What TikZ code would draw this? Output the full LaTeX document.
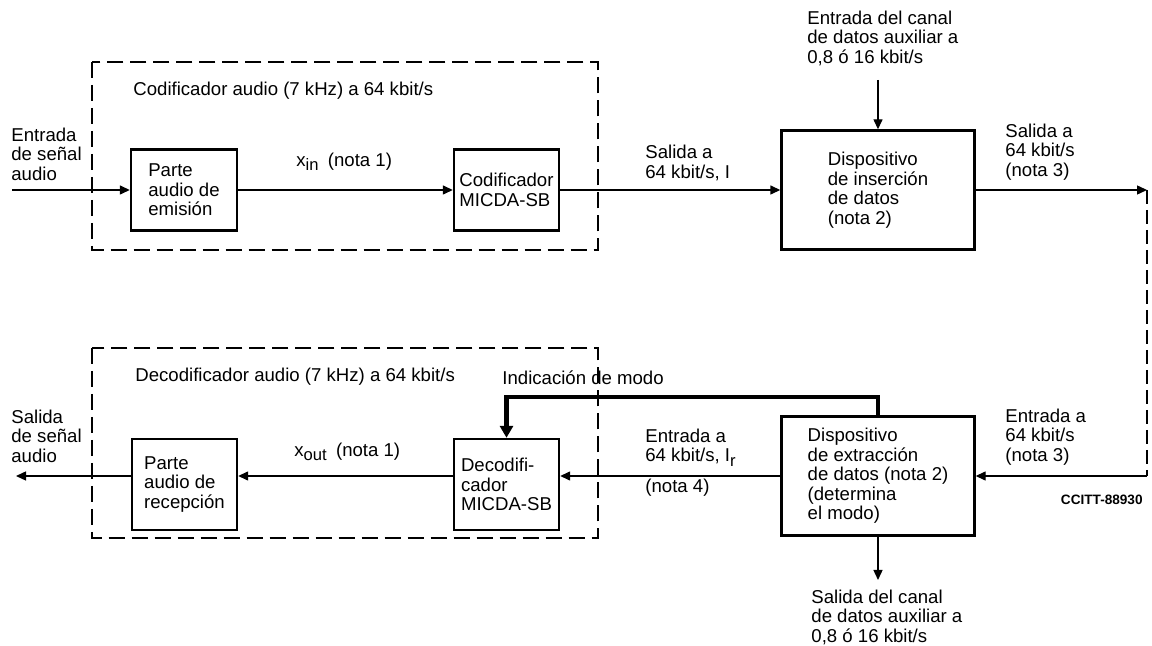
\documentclass[tikz,border=0pt]{standalone}
\usepackage{fontspec}
\setmainfont{Liberation Sans}
\usetikzlibrary{arrows.meta}
\newcommand{\lowsub}[1]{\raisebox{-0.45ex}{\fontsize{8.3}{8.3}\selectfont #1}}
\begin{document}
\begin{tikzpicture}[x=0.5pt,y=-0.5pt,
  txt/.style={font=\fontsize{9.3}{9.75}\selectfont, inner sep=0pt, align=left, anchor=west},
  blk/.style={draw, line width=1.2pt, inner sep=0pt, align=left, font=\fontsize{9.3}{9.75}\selectfont},
  conn/.style={line width=0.7pt},
  arr/.style={conn, -{Triangle[length=5pt,width=4.5pt]}},
  grp/.style={draw, line width=1pt, dash pattern=on 8pt off 3.5pt},
  modeline/.style={line width=2.3pt, -{Triangle[length=6pt,width=6.5pt]}},
  code/.style={font=\fontsize{6.8}{7}\selectfont\bfseries, inner sep=0pt, anchor=east}
]
\useasboundingbox (0,0) rectangle (1152,646);

% dashed groups
\draw[grp] (91.7,62) rectangle (598,250);
\draw[grp] (91.7,348) rectangle (598,538);

% blocks
\node[blk, minimum width=53pt, minimum height=40.5pt] (pe) at (184,190) {Parte\\audio de\\emisión};
\node[blk, minimum width=52.5pt, minimum height=40.5pt] (cod) at (506.5,190) {Codificador\\MICDA-SB};
\node[blk, minimum width=96.5pt, minimum height=59.5pt] (ins) at (878,190) {Dispositivo\\de inserción\\de datos\\(nota 2)};
\node[blk, minimum width=96.5pt, minimum height=59.5pt] (ext) at (878,476) {Dispositivo\\de extracción\\de datos (nota 2)\\(determina\\el modo)};
\node[blk, minimum width=52.5pt, minimum height=45.5pt] (dec) at (506.5,484.5) {Decodifi-\\cador\\MICDA-SB};
\node[blk, minimum width=52.5pt, minimum height=45.5pt] (pr) at (184.5,484.5) {Parte\\audio de\\recepción};

% coordinates
\coordinate (in) at (12,190);
\coordinate (auxin) at (878,80);
\coordinate (c1) at (1147,190);
\coordinate (c2) at (1147,476);
\coordinate (out) at (16,476);
\coordinate (auxout) at (878,580);
\coordinate (mode) at (0,397);

% connectors
\draw[arr] (in) -- (pe.west);
\draw[arr] (pe.east) -- (cod.west);
\draw[arr] (cod.east) -- (ins.west);
\draw[arr] (auxin) -- (ins.north);
\draw[arr] (ins.east) -- (c1);
\draw[conn, dash pattern=on 7pt off 3pt] (c1) -- (c2);
\draw[arr] (c2) -- (ext.east);
\draw[arr] (ext.west) -- (dec.east |- ext.west);
\draw[arr] (dec.west |- ext.west) -- (pr.east |- ext.west);
\draw[arr] (pr.west |- ext.west) -- (out);
\draw[arr] (ext.south) -- (auxout);
\draw[modeline] (ext.north) -- (ext.north |- mode) -| (dec.north);

% labels
\node[txt] (l1) at (11,154) {Entrada\\de señal\\audio};
\node[txt] (l2) at (133,91) {Codificador audio (7 kHz) a 64 kbit/s};
\node[txt] (l3) at (296,162) {x\lowsub{in}\enspace(nota 1)};
\node[txt] (l4) at (645,163) {Salida a\\64 kbit/s, I};
\node[txt] (l5) at (807,38) {Entrada del canal\\de datos auxiliar a\\0,8 ó 16 kbit/s};
\node[txt] (l6) at (1005,152) {Salida a\\64 kbit/s\\(nota 3)};
\node[txt] (l7) at (135,377) {Decodificador audio (7 kHz) a 64 kbit/s};
\node[txt] (l8) at (11,436) {Salida\\de señal\\audio};
\node[txt] (l9) at (294,452) {x\lowsub{out}\enspace(nota 1)};
\node[txt] (l10) at (502,378) {Indicación de modo};
\node[txt] (l11) at (645,447.5) {Entrada a\\64 kbit/s, I\lowsub{r}};
\node[txt] (l12) at (645,488) {(nota 4)};
\node[txt] (l13) at (1005,437) {Entrada a\\64 kbit/s\\(nota 3)};
\node[code] (l14) at (1143,500) {CCITT-88930};
\node[txt] (l15) at (811,617) {Salida del canal\\de datos auxiliar a\\0,8 ó 16 kbit/s};
\end{tikzpicture}
\end{document}
